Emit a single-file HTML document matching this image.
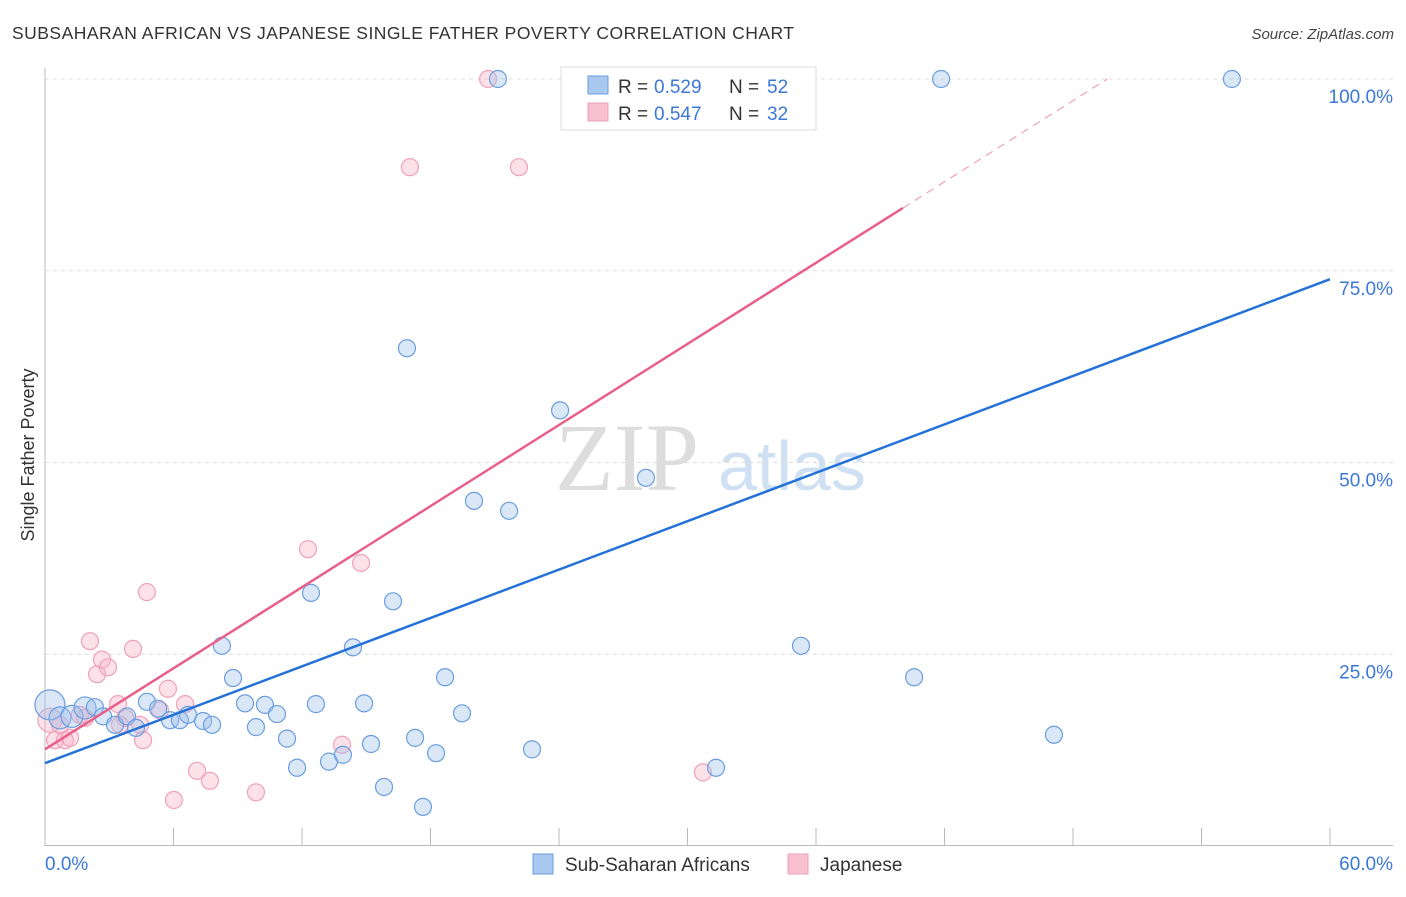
<!DOCTYPE html>
<html><head><meta charset="utf-8"><style>
body{margin:0;background:#fff;font-family:"Liberation Sans",sans-serif;}
</style></head><body>
<svg id="chart" width="1406" height="892" xmlns="http://www.w3.org/2000/svg" font-family="Liberation Sans, sans-serif">
<text x="12" y="39" font-size="17.5" fill="#333" textLength="782" lengthAdjust="spacing">SUBSAHARAN AFRICAN VS JAPANESE SINGLE FATHER POVERTY CORRELATION CHART</text>
<text x="1394" y="39" font-size="15" fill="#444" text-anchor="end" font-style="italic">Source: ZipAtlas.com</text>
<g>
<text x="555" y="490" font-size="96" fill="#ddd" font-family="Liberation Serif, serif">ZIP</text>
<text x="718" y="490" font-size="70" fill="#cfe0f3">atlas</text>
</g>
<g id="grid"></g>
<g id="axes"></g>
<g id="marks"></g>
<text transform="translate(34,455) rotate(-90)" font-size="18" fill="#333" text-anchor="middle">Single Father Poverty</text>
<g>
<rect x="561" y="67" width="255" height="63" fill="#fff" stroke="#ddd"/>
<rect x="588" y="76" width="20" height="18" fill="#a8c8f0" stroke="#6a9ee0"/>
<text x="618" y="93" font-size="19" fill="#333">R =</text>
<text x="654" y="93" font-size="19" fill="#3b78d8">0.529</text>
<text x="729" y="93" font-size="19" fill="#333">N =</text>
<text x="767" y="93" font-size="19" fill="#3b78d8">52</text>
<rect x="588" y="103" width="20" height="18" fill="#f8c0d0" stroke="#f0a0b8"/>
<text x="618" y="120" font-size="19" fill="#333">R =</text>
<text x="654" y="120" font-size="19" fill="#3b78d8">0.547</text>
<text x="729" y="120" font-size="19" fill="#333">N =</text>
<text x="767" y="120" font-size="19" fill="#3b78d8">32</text>
</g>
<g>
<rect x="533" y="854" width="20" height="20" fill="#a8c8f0" stroke="#6a9ee0"/>
<text x="565" y="871" font-size="19" fill="#333">Sub-Saharan Africans</text>
<rect x="788" y="854" width="20" height="20" fill="#f8c0d0" stroke="#f0a0b8"/>
<text x="820" y="871" font-size="19" fill="#333">Japanese</text>
</g>
</svg>
<script>
const blueX=[0.23,0.70,1.26,1.87,2.33,2.71,3.27,3.83,4.25,4.76,5.28,5.84,6.30,6.68,7.38,7.80,8.26,8.78,9.34,9.85,10.27,10.83,11.30,11.77,12.42,12.65,13.26,13.91,14.38,14.90,15.22,15.83,16.25,16.90,17.28,17.65,18.26,18.68,19.47,20.03,21.15,21.67,22.74,24.05,26.05,28.06,31.33,35.30,40.58,41.84,47.11,55.42];
const blueY=[18.4,16.7,16.9,18.0,18.1,16.9,15.8,16.9,15.4,18.8,17.9,16.4,16.4,17.1,16.3,15.8,26.1,21.9,18.6,15.5,18.4,17.2,14.0,10.2,33.0,18.5,11.0,11.9,25.9,18.6,13.3,7.7,31.9,64.9,14.1,5.1,12.1,22.0,17.3,45.0,100,43.7,12.6,56.8,100,48.0,10.2,26.1,22.0,100,14.5,100];
const pinkX=[0.23,0.47,0.93,1.17,1.63,2.10,2.43,2.66,2.94,3.41,3.74,4.11,4.44,4.58,4.76,5.37,5.74,6.54,6.02,7.10,7.70,9.85,12.28,13.87,14.76,17.04,20.69,22.13,30.72,0.70,1.87,3.50];
const pinkY=[16.4,13.8,13.8,14.1,17.1,26.7,22.4,24.3,23.3,18.5,16.7,25.7,15.8,13.8,33.1,17.7,20.5,18.5,6.0,9.8,8.5,7.0,38.7,13.2,36.9,88.5,100,88.5,9.6,15.8,16.7,15.8];
const blueTrend=[10.8,73.9];
const pinkTrend=[12.6,1.762];
const yTicks=[25,50,75,100];
const xTickVals=[0,6,12,18,24,30,36,42,48,54,60];
const X=v=>45+v/60*1285, Y=v=>846-v*7.67;
const NS="http://www.w3.org/2000/svg";
function mk(p,t,a){const e=document.createElementNS(NS,t);for(const k in a)e.setAttribute(k,a[k]);p.appendChild(e);return e;}
const grid=document.getElementById('grid'),axes=document.getElementById('axes'),marks=document.getElementById('marks');
yTicks.forEach(v=>{
 const l=mk(grid,'line',{x1:45,x2:1393,y1:Y(v),y2:Y(v),stroke:'#ddd','stroke-dasharray':'4,4'});
 
 
 const t=mk(axes,'text',{x:1393,y:Y(v)+24,'font-size':19,fill:'#3b78d8','text-anchor':'end'});t.textContent=v.toFixed(1)+'%';
 
 
});
const ax=mk(axes,'line',{x1:45,x2:45,y1:68,y2:846,stroke:'#bbb'});


const bx=mk(axes,'line',{x1:45,x2:1393,y1:845.5,y2:845.5,stroke:'#bbb'});


xTickVals.slice(1).forEach(v=>{const t=mk(axes,'line',{x1:X(v),x2:X(v),y1:828,y2:846,stroke:'#bbb'});
 
 });
const t0=mk(axes,'text',{x:45,y:870,'font-size':19,fill:'#3b78d8'});t0.textContent='0.0%';


const t1=mk(axes,'text',{x:1393,y:870,'font-size':19,fill:'#3b78d8','text-anchor':'end'});t1.textContent='60.0%';


pinkX.forEach((x,i)=>{const c=mk(marks,'circle',{cx:X(x),cy:Y(pinkY[i]),r:i==0?12:8.5,fill:'rgba(248,180,200,0.4)',stroke:'#f0a0b8','stroke-width':1.2});
 
 });
blueX.forEach((x,i)=>{const c=mk(marks,'circle',{cx:X(x),cy:Y(blueY[i]),r:i==0?15:(i<4?11:8.5),fill:'rgba(160,196,236,0.4)',stroke:'#6a9ee0','stroke-width':1.2});
 
 });
const bl=mk(marks,'line',{x1:X(0),y1:Y(blueTrend[0]),x2:X(60),y2:Y(blueTrend[1]),stroke:'#2472d8','stroke-width':2.5});


const pEnd=40.06, pTop=(100-pinkTrend[0])/pinkTrend[1];
const pl=mk(marks,'line',{x1:X(0),y1:Y(pinkTrend[0]),x2:X(pEnd),y2:Y(pinkTrend[0]+pinkTrend[1]*pEnd),stroke:'#e8608a','stroke-width':2.5});


const pd=mk(marks,'line',{x1:X(pEnd),y1:Y(pinkTrend[0]+pinkTrend[1]*pEnd),x2:X(pTop),y2:Y(100),stroke:'#f0a0b8','stroke-width':1.2,'stroke-dasharray':'8,6'});


</script>
</body></html>
